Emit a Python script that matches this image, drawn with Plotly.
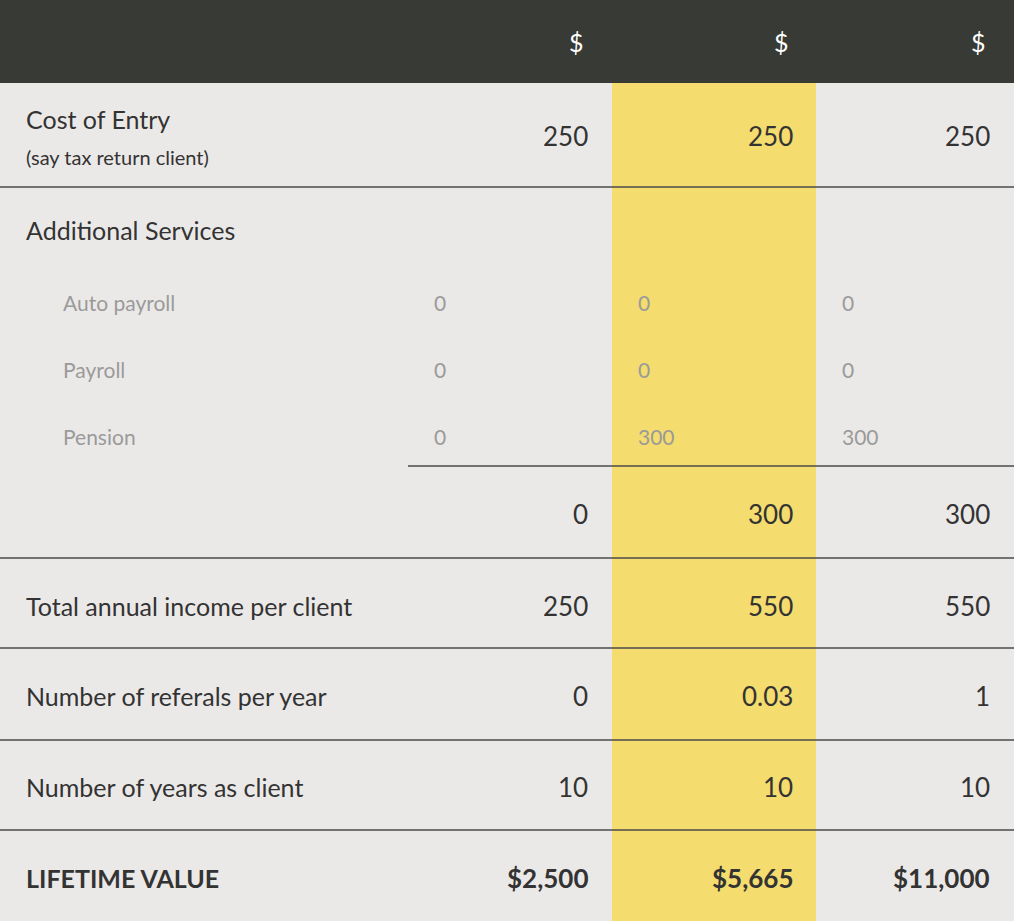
import plotly.graph_objects as go

columns = ["$", "$", "$"]
main_rows = ["Cost of Entry", "Total annual income per client", "Number of referals per year", "Number of years as client"]
cost_entry = ["250", "250", "250"]
sub_labels = ["Auto payroll", "Payroll", "Pension"]
sub_values = [["0", "0", "0"], ["0", "0", "0"], ["0", "300", "300"]]
subtotal = ["0", "300", "300"]
total_income = ["250", "550", "550"]
referrals = ["0", "0.03", "1"]
years = ["10", "10", "10"]
lifetime = ["$2,500", "$5,665", "$11,000"]

W, H = 1014, 921
BG = "#ebe9e7"; DARK = "#383a35"; YEL = "#f4dc6e"; LINE = "#4a4a4a"; GREY = "#9a9a9a"; TXT = "#333333"
FONT = "Lato"
col_right = [590, 795, 992]
col_left = [432, 636, 840]

fig = go.Figure()
shapes = [
    dict(type="rect", x0=0, x1=W, y0=0, y1=H, fillcolor=BG, line_width=0, layer="below"),
    dict(type="rect", x0=612, x1=816, y0=83, y1=H, fillcolor=YEL, line_width=0, layer="below"),
    dict(type="rect", x0=0, x1=W, y0=0, y1=83, fillcolor=DARK, line_width=0, layer="below"),
]
for y, x0 in [(187, 0), (466, 408), (558, 0), (648, 0), (740, 0), (830, 0)]:
    shapes.append(dict(type="line", x0=x0, x1=W, y0=y, y1=y, line=dict(color=LINE, width=1.5)))

ann = []
def t(x, y, s, anchor="left", size=26, color=TXT, bold=False):
    ann.append(dict(x=x, y=y, text=f"<b>{s}</b>" if bold else s, showarrow=False, xanchor=anchor, yanchor="middle",
                    font=dict(family=FONT, size=size, color=color)))

for i, c in enumerate(columns):
    t(col_right[i] - 4, 42, c, "right", 25, "white")

t(24, 119, "Cost of Entry", size=25)
t(24, 157, "(say tax return client)", size=20)
for i, v in enumerate(cost_entry):
    t(col_right[i], 136, v, "right", 26)
t(24, 230, "Additional Services", size=25)
for r, (lab, vals) in enumerate(zip(sub_labels, sub_values)):
    y = 302 + r * 67
    t(61, y, lab, size=21, color=GREY)
    for i, v in enumerate(vals):
        t(col_left[i], y, v, "left", 21, GREY)
for i, v in enumerate(subtotal):
    t(col_right[i], 514, v, "right", 26)
for label, vals, y in [(main_rows[1], total_income, 606), (main_rows[2], referrals, 696), (main_rows[3], years, 787)]:
    t(24, y, label, size=25)
    for i, v in enumerate(vals):
        t(col_right[i], y, v, "right", 26)
t(24, 878, "LIFETIME VALUE", bold=True, size=25)
for i, v in enumerate(lifetime):
    t(col_right[i], 878, v, "right", 26, bold=True)

fig.update_layout(width=W, height=H, margin=dict(l=0, r=0, t=0, b=0), shapes=shapes, annotations=ann,
                  paper_bgcolor=BG, plot_bgcolor=BG,
                  xaxis=dict(range=[0, W], visible=False, fixedrange=True),
                  yaxis=dict(range=[H, 0], visible=False, fixedrange=True))
fig.write_html("out.html", config={"displayModeBar": False})

with open("out.html", encoding="utf-8") as f:
    html = f.read()
html = html.replace("<body>", '<body style="margin:0;overflow:hidden">', 1)
with open("out.html", "w", encoding="utf-8") as f:
    f.write(html)
